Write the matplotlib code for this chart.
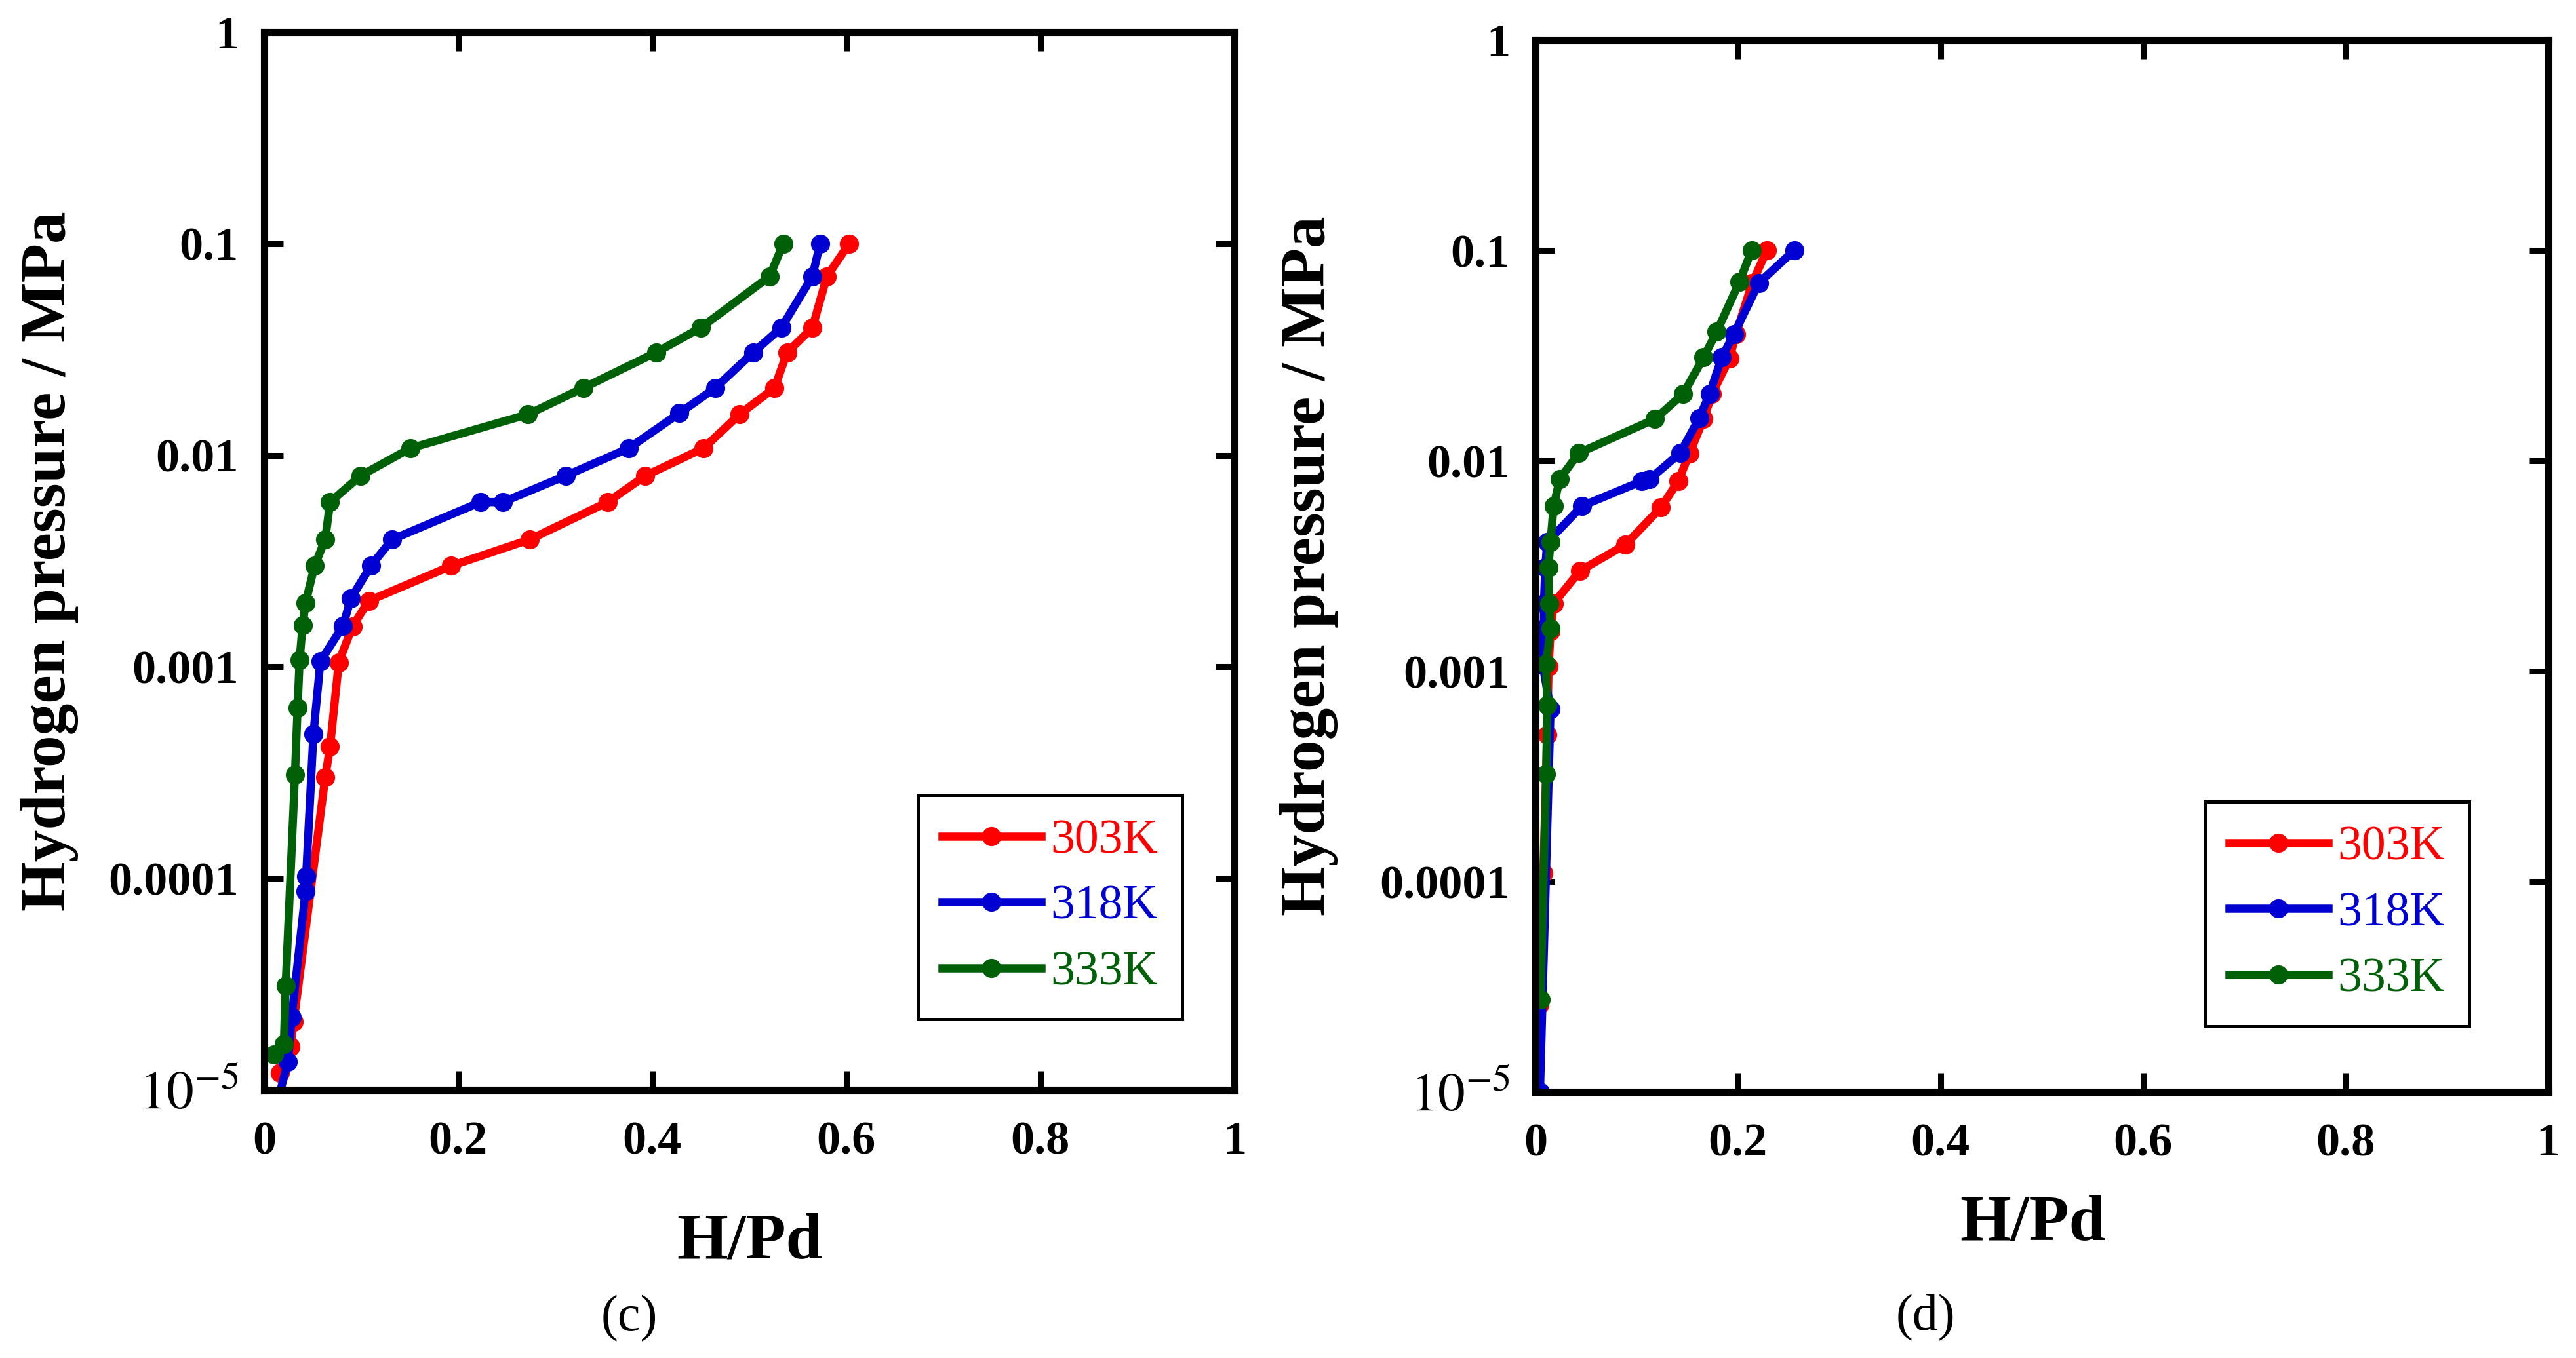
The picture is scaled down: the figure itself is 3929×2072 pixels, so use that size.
import matplotlib

matplotlib.use('Agg')

from matplotlib import pyplot as plt
from matplotlib.ticker import FixedLocator, FixedFormatter, NullLocator

plt.rcParams['font.family'] = ['Liberation Serif', 'DejaVu Serif']
plt.rcParams['mathtext.fontset'] = 'stix'

# panel (c)
c_x_303 = [0.016, 0.027, 0.0305, 0.063, 0.068, 0.077, 0.091, 0.108, 0.193, 0.274,
           0.354, 0.393, 0.453, 0.490, 0.526, 0.539, 0.565, 0.580, 0.603]
c_p_303 = [1.2e-5, 1.6e-5, 2.1e-5, 3.0e-4, 4.2e-4, 1.05e-3, 1.55e-3, 2.05e-3, 3.0e-3, 4.0e-3,
           6.0e-3, 8.0e-3, 1.08e-2, 1.56e-2, 2.08e-2, 3.06e-2, 4.0e-2, 7.0e-2, 0.1]
c_x_318 = [0.013, 0.0246, 0.0284, 0.0427, 0.0433, 0.0508, 0.058, 0.0813, 0.0894, 0.110,
           0.132, 0.223, 0.246, 0.311, 0.376, 0.428, 0.465, 0.504, 0.533, 0.565, 0.573]
c_p_318 = [8.5e-6, 1.36e-5, 2.2e-5, 8.7e-5, 1.02e-4, 4.8e-4, 1.06e-3, 1.56e-3, 2.1e-3, 3.0e-3,
           4.0e-3, 6.0e-3, 6.0e-3, 8.0e-3, 1.08e-2, 1.58e-2, 2.08e-2, 3.06e-2, 4.0e-2, 7.0e-2, 0.1]
c_x_333 = [0.0103, 0.0204, 0.0222, 0.0318, 0.0345, 0.0366, 0.0397, 0.0427, 0.052, 0.063,
           0.068, 0.0995, 0.151, 0.272, 0.329, 0.404, 0.450, 0.521, 0.535]
c_p_333 = [1.47e-5, 1.65e-5, 3.1e-5, 3.1e-4, 6.4e-4, 1.08e-3, 1.57e-3, 2.0e-3, 3.0e-3, 4.0e-3,
           6.0e-3, 8.0e-3, 1.08e-2, 1.56e-2, 2.08e-2, 3.06e-2, 4.0e-2, 7.0e-2, 0.1]

# panel (d)
d_x_303 = [0.004, 0.0078, 0.0116, 0.013, 0.015, 0.018, 0.044, 0.089, 0.124, 0.141,
           0.152, 0.166, 0.1745, 0.1915, 0.198, 0.214, 0.2285]
d_p_303 = [2.6e-5, 1.1e-4, 5.0e-4, 1.05e-3, 1.55e-3, 2.1e-3, 3.0e-3, 4.0e-3, 6.0e-3, 8.0e-3,
           1.08e-2, 1.58e-2, 2.08e-2, 3.06e-2, 4.0e-2, 7.0e-2, 0.1]
d_x_318 = [0.0045, 0.0149, 0.0071, 0.0084, 0.0084, 0.0097, 0.0116, 0.046, 0.105, 0.113,
           0.143, 0.1616, 0.172, 0.184, 0.196, 0.2205, 0.2555]
d_p_318 = [1.0e-5, 6.6e-4, 1.08e-3, 1.6e-3, 2.1e-3, 3.1e-3, 4.1e-3, 6.1e-3, 8.0e-3, 8.2e-3,
           1.09e-2, 1.59e-2, 2.08e-2, 3.1e-2, 4.0e-2, 7.0e-2, 0.1]
d_x_333 = [0.005, 0.0107, 0.0116, 0.0105, 0.0149, 0.0137, 0.0127, 0.0149, 0.018, 0.024,
           0.043, 0.118, 0.146, 0.166, 0.179, 0.2015, 0.2134]
d_p_333 = [2.75e-5, 3.25e-4, 6.9e-4, 1.08e-3, 1.6e-3, 2.1e-3, 3.1e-3, 4.1e-3, 6.1e-3, 8.2e-3,
           1.09e-2, 1.58e-2, 2.08e-2, 3.1e-2, 4.1e-2, 7.1e-2, 0.1]

labels = ['303K', '318K', '333K']
colors = ['#ff0000', '#0000d2', '#006008']
y_ticks = [1e-5, 1e-4, 1e-3, 1e-2, 1e-1, 1]
y_ticklabels = ['$10^{-5}$', '0.0001', '0.001', '0.01', '0.1', '1']
x_ticks = [0, 0.2, 0.4, 0.6, 0.8, 1]
x_ticklabels = ['0', '0.2', '0.4', '0.6', '0.8', '1']


def draw(ax, series, leg_anchor):
  for (x, p), lab, col in zip(series, labels, colors):
    ax.plot(x, p, '-o', color=col, lw=9, ms=20, label=lab)
  ax.set_yscale('log')
  ax.set_xlim(0, 1)
  ax.set_ylim(1e-5, 1)
  ax.yaxis.set_major_locator(FixedLocator(y_ticks))
  ax.yaxis.set_major_formatter(FixedFormatter(y_ticklabels))
  ax.yaxis.set_minor_locator(NullLocator())
  ax.xaxis.set_major_locator(FixedLocator(x_ticks))
  ax.xaxis.set_major_formatter(FixedFormatter(x_ticklabels))
  ax.tick_params(direction='in', top=True, right=True, length=21, width=6.5,
                 labelsize=52)
  ax.tick_params(axis='y', pad=28)
  ax.tick_params(axis='x', pad=34)
  for t in ax.get_xticklabels() + ax.get_yticklabels():
    t.set_fontweight('bold')
  ax.get_yticklabels()[0].set_fontsize(60)
  for s in ax.spines.values():
    s.set_linewidth(8)
  leg = ax.legend(loc='upper left', bbox_to_anchor=leg_anchor,
                  bbox_transform=ax.figure.transFigure, borderaxespad=0,
                  fontsize=53, numpoints=1, handlelength=2.05, handletextpad=0.2,
                  borderpad=0.5, labelspacing=0.45, labelcolor='linecolor',
                  fancybox=False, edgecolor='black', framealpha=1)
  leg.get_frame().set_linewidth(3.6)


fig = plt.figure(figsize=(39.30, 20.72), dpi=100)
ax1 = fig.add_axes([0.1025, 0.1974, 0.3766, 0.7790])
ax2 = fig.add_axes([0.5959, 0.1959, 0.3931, 0.7746])

draw(ax1, [(c_x_303, c_p_303), (c_x_318, c_p_318), (c_x_333, c_p_333)], (0.3562, 0.4146))
draw(ax2, [(d_x_303, d_p_303), (d_x_318, d_p_318), (d_x_333, d_p_333)], (0.8557, 0.4097))

fig.text(0.0191, 0.5869, 'Hydrogen pressure / MPa', rotation=90, ha='center', va='center',
         fontsize=70, fontweight='bold')
fig.text(0.5081, 0.5835, 'Hydrogen pressure / MPa', rotation=90, ha='center', va='center',
         fontsize=70, fontweight='bold')
fig.text(0.2908, 0.0854, 'H/Pd', ha='center', va='center', fontsize=72, fontweight='bold')
fig.text(0.7888, 0.0989, 'H/Pd', ha='center', va='center', fontsize=72, fontweight='bold')
fig.text(0.2443, 0.0294, '(c)', ha='center', va='center', fontsize=56)
fig.text(0.7473, 0.0299, '(d)', ha='center', va='center', fontsize=56)

fig.savefig('out.png', dpi=100)
